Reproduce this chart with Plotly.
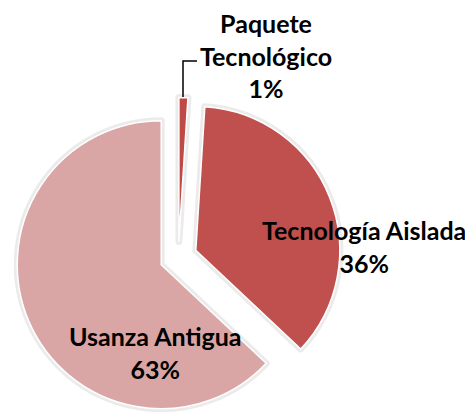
import plotly.graph_objects as go

labels = ["Paquete Tecnológico", "Tecnología Aislada", "Usanza Antigua"]
label_lines = ["Paquete<br>Tecnológico", "Tecnología Aislada", "Usanza Antigua"]
values = [1, 36, 63]
pct_text = ["1%", "36%", "63%"]
colors = ["#BE4946", "#C0504D", "#D9A6A5"]
pulls = [0.11, 0.13, 0.13]

W, H = 473, 412
OFF = 8  # default page body margin
dom_x = [7.7 / W, 333.1 / W]
dom_y = [0, 325.4 / H]

fig = go.Figure()
fig.add_trace(go.Pie(
    labels=labels, values=values, sort=False, direction="clockwise", rotation=0,
    pull=pulls, domain=dict(x=dom_x, y=dom_y), textinfo="none", hoverinfo="skip",
    marker=dict(colors=["rgba(0,0,0,0)"] * 3, line=dict(color="rgba(0,0,0,0.08)", width=7)),
    showlegend=False,
))
fig.add_trace(go.Pie(
    labels=labels, values=values, sort=False, direction="clockwise", rotation=0,
    pull=pulls, domain=dict(x=dom_x, y=dom_y), textinfo="none",
    marker=dict(colors=colors, line=dict(color="#FFFFFF", width=1.5)),
    showlegend=False,
))

def px_x(v):
    return (v - OFF) / W

def px_y(v):
    return 1 - (v - OFF) / H

font = dict(family="Lato", size=25, color="#000000", weight="bold")
ann_pos = [(266, 56), (364, 247), (155, 352)]
for (px, py), name, pct in zip(ann_pos, label_lines, pct_text):
    fig.add_annotation(
        x=px_x(px), y=px_y(py), xref="paper", yref="paper",
        text=f"{name}<br>{pct}", showarrow=False, font=font,
        xanchor="center", yanchor="middle", align="center",
    )

fig.add_shape(
    type="path", xref="paper", yref="paper",
    path=f"M {px_x(183)},{px_y(97)} L {px_x(183)},{px_y(61)} L {px_x(197)},{px_y(61)}",
    line=dict(color="#000000", width=1.5),
)

fig.update_layout(
    width=W, height=H, margin=dict(l=0, r=0, t=0, b=0),
    paper_bgcolor="#FFFFFF", plot_bgcolor="#FFFFFF",
)
fig.write_html("out.html")
